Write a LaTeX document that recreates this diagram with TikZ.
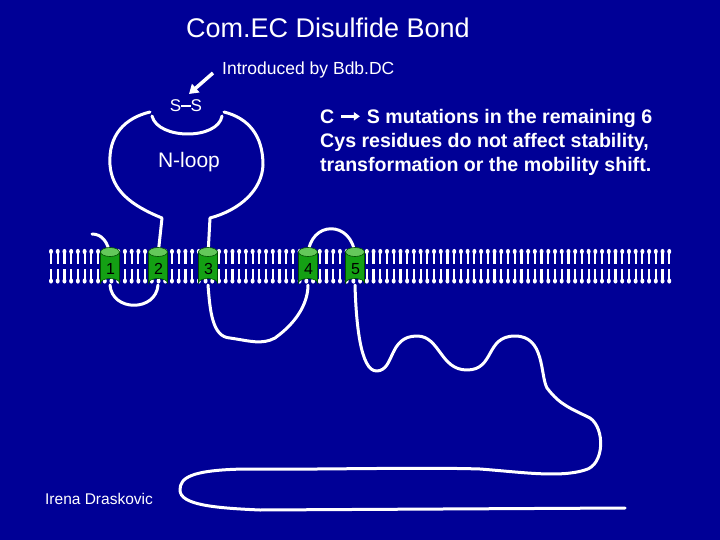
\documentclass[tikz,border=0pt]{standalone}
\usepackage{fontspec}
\setmainfont{Liberation Sans}
\usetikzlibrary{arrows.meta}
\definecolor{bg}{RGB}{0,0,150}
\definecolor{hel}{RGB}{20,160,20}
\definecolor{heltop}{RGB}{100,200,90}
\tikzset{chain/.style={white,line width=3pt,line cap=round,line join=round},
 lip/.style={white,line width=2.2pt},
 txt/.style={text=white,inner sep=0pt}}
\begin{document}
\begin{tikzpicture}[x=1pt,y=-1pt]
\fill[bg] (0,0) rectangle (720,540);
\useasboundingbox (0,0) rectangle (720,540);
% lipids
\foreach \i in {0,...,92}{
  \pgfmathsetmacro\xx{51+6.72*\i}
  \fill[white] (\xx,251.5) ellipse (2 and 2.6);
  \draw[lip] (\xx,252) -- (\xx,264);
  \fill[white] (\xx,281) ellipse (2 and 2.6);
  \draw[lip] (\xx,281) -- (\xx,269);
}
\coordinate (h1t) at (110,255); \coordinate (h1b) at (110,285);
\coordinate (h2t) at (158,255); \coordinate (h2b) at (158,285);
\coordinate (h3t) at (208,255); \coordinate (h3b) at (208,285);
\coordinate (h4t) at (308,255); \coordinate (h4b) at (308,285);
\coordinate (h5t) at (355,255); \coordinate (h5b) at (355,285);
\coordinate (nend) at (92,234);
\coordinate (cend) at (625,508);
\draw[chain] (nend) .. controls (102,234) and (108,242) .. (h1t);
\draw[chain] (h1b) .. controls (112,312) and (156,312) .. (h2b);
\draw[chain] (h2t) -- (162,218) .. controls (130,205) and (112,190) .. (110,165)
  .. controls (108,135) and (125,118) .. (150,112);
\draw[chain] (h3t) -- (210,218) .. controls (240,210) and (262,190) .. (263,165)
  .. controls (263,135) and (248,118) .. (224,112);
\draw[chain] (152,116) .. controls (158,140) and (218,140) .. (222,116);
\draw[chain] (h3b) .. controls (210,310) and (212,337) .. (230,338)
  .. controls (250,341) and (262,345) .. (275,338) .. controls (300,320) and (308,300) .. (h4b);
\draw[chain] (h4t) .. controls (310,220) and (352,220) .. (h5t);
\draw[chain] (h5b) .. controls (356,320) and (360,372) .. (377,371)
  .. controls (395,370) and (388,336) .. (417,336)
  .. controls (440,336) and (440,370) .. (467,370)
  .. controls (495,370) and (485,336) .. (515,336)
  .. controls (545,336) and (540,375) .. (547,388)
  .. controls (560,405) and (570,408) .. (590,418)
  .. controls (605,428) and (605,465) .. (585,470)
  .. controls (560,478) and (520,472) .. (480,469)
  .. controls (420,467) and (300,470) .. (245,469)
  .. controls (190,470) and (180,478) .. (180,490)
  .. controls (180,505) and (215,508) .. (260,510)
  -- (cend);
% helices
\foreach \n/\x in {1/110,2/158,3/208,4/308,5/355}{
  \fill[hel,draw=black!70!green,line width=0.6pt] (\x-9.5,252) -- (\x-9.5,283) arc[start angle=180,end angle=360,x radius=9.5,y radius=4.5] -- (\x+9.5,252) -- cycle;
  \fill[heltop,draw=black!70!green,line width=0.6pt] (\x,252) ellipse (9.5 and 4.5);
  \node[inner sep=0pt,font=\fontsize{16}{16}\selectfont] (h\n) at (\x+0.5,269) {\n};
}
\node[txt,font=\fontsize{17}{17}\selectfont] (ss) at (186,106) {S\rule[0.3em]{0.55em}{1.8pt}S};
\coordinate (arr) at (213,73);
\coordinate (arrend) at (189,94);
\draw[white,line width=3.5pt,-{Triangle[length=9pt,width=11pt]}] (arr) -- (arrend);
\node[txt,font=\fontsize{27}{27}\selectfont] (title) at (328,28) {Com.EC Disulfide Bond};
\node[txt,font=\fontsize{17.5}{17.5}\selectfont,anchor=west] (intro) at (222,70) {Introduced by Bdb.DC};
\node[txt,font=\fontsize{21}{21}\selectfont] (nl) at (189,162) {N-loop};
\node[txt,font=\bfseries\fontsize{19.6}{24}\selectfont,align=left,anchor=north west] (para) at (320,109)
 {C \tikz[baseline]\draw[white,line width=3pt,-{Triangle[length=6pt,width=8pt]}] (0,0.36em) -- (0.95em,0.36em);\ S mutations in the remaining 6\\Cys residues do not affect stability,\\transformation or the mobility shift.};
\node[txt,font=\fontsize{15.5}{15.5}\selectfont] (auth) at (99,499) {Irena Draskovic};
\end{tikzpicture}
\end{document}
